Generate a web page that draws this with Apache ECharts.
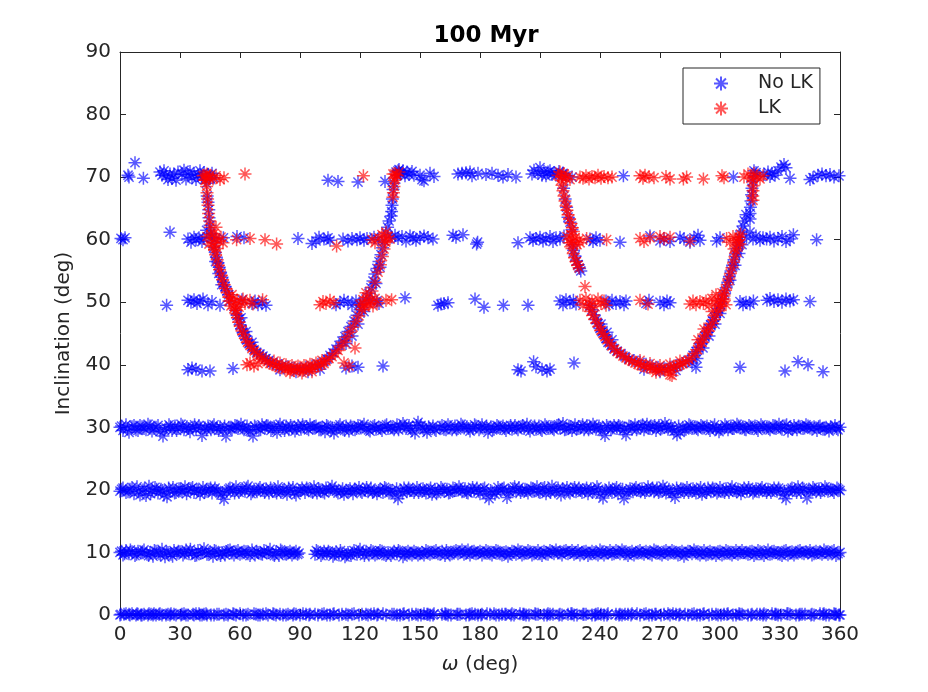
<!DOCTYPE html>
<html>
<head>
<meta charset="utf-8">
<script src="https://cdn.jsdelivr.net/npm/echarts@6/dist/echarts.min.js"></script>
<style>html,body{margin:0;padding:0;background:#fff;}#c{width:928px;height:692px;}</style>
</head>
<body>
<div id="c"></div>
<script>
// ---- data (omega deg, inclination deg) ----
const xTicks = [0,30,60,90,120,150,180,210,240,270,300,330,360];
const yTicks = [0,10,20,30,40,50,60,70,80,90];

const noLkBand0 = [[0,0],[2,0.1],[4,-0.1],[6,0.2],[8,0],[10,-0.2],[12,0.1],[14,0],[17,0.2],[19,-0.1],[21,0],[24,0.1],[26,-0.2],[28,0],[31,0.1],[33,0],[35,-0.1],[38,0.2],[40,0],[42,0.1],[44,-0.1],[47,0],[53,0.1],[55,-0.1],[58,0],[60,0.2],[63,0],[65,-0.1],[68,0.1],[70,0],[73,0.2],[75,-0.1],[78,0],[80,0.1],[83,0],[85,-0.2],[88,0.1],[90,0],[93,0.1],[96,-0.1],[99,0],[102,0.2],[105,0],[108,-0.1],[111,0.1],[114,0],[118,-0.1],[121,0.1],[124,0],[127,0.2],[130,-0.1],[133,0],[137,0.1],[140,0],[143,-0.1],[146,0.1],[149,0],[152,0.2],[155,0],[158,-0.1],[161,0.1],[164,0],[167,-0.1],[170,0.1],[173,0],[176,0.2],[179,0],[182,-0.1],[185,0.1],[188,0],[191,0.1],[194,-0.1],[197,0],[200,0.2],[203,0],[206,-0.1],[209,0.1],[212,0],[215,0.1],[218,-0.2],[221,0],[224,0.1],[227,0],[230,-0.1],[233,0.1],[236,0],[239,0.2],[242,0],[245,-0.1],[248,0.1],[251,0],[254,0.1],[257,-0.1],[260,0],[263,0.2],[266,0],[269,-0.1],[272,0.1],[275,0],[278,0.1],[281,-0.1],[284,0],[287,0.2],[290,0],[293,-0.1],[296,0.1],[299,0],[302,0.1],[305,-0.2],[308,0],[311,0.1],[314,0],[317,-0.1],[320,0.1],[323,0],[326,0.2],[329,0],[332,-0.1],[335,0.1],[338,0],[341,0.1],[344,-0.1],[347,0],[350,0.2],[353,0],[356,-0.1],[358,0.1],[360,0]];
const noLkBand0b = [[1,-0.1],[3,0.2],[5,0],[7,-0.2],[9,0.1],[11,0],[13,-0.1],[15.5,0.1],[18,0],[20,0.2],[22.5,-0.1],[25,0],[27,0.1],[29.5,-0.1],[32,0.2],[34,0],[36.5,0.1],[39,-0.1],[41,0],[43,0.2],[45.5,0],[48.5,0.1],[51,-0.1],[54,0],[56.5,0.2],[59,-0.1],[61.5,0],[64,0.1],[66.5,-0.2],[69,0],[71.5,0.1],[74,0],[76.5,0.2],[79,-0.1],[81.5,0],[84,0.1],[86.5,0],[89,-0.1],[91.5,0.2],[94.5,0],[97.5,0.1],[100.5,-0.1],[103.5,0],[106.5,0.1],[109.5,0],[112.5,-0.1],[116,0.1],[119.5,0],[122.5,-0.1],[125.5,0.1],[128.5,0],[131.5,0.2],[135,-0.1],[138.5,0],[141.5,0.1],[144.5,0],[147.5,-0.2],[150.5,0],[153.5,0.1],[156.5,0],[159.5,-0.1],[162.5,0.2],[165.5,0],[168.5,0.1],[171.5,-0.1],[174.5,0],[177.5,0.1],[180.5,0],[183.5,0.2],[186.5,-0.1],[189.5,0],[192.5,0.1],[195.5,0],[198.5,-0.1],[201.5,0.1],[204.5,0],[207.5,0.2],[210.5,-0.1],[213.5,0],[216.5,0.1],[219.5,0],[222.5,-0.1],[225.5,0.2],[228.5,0],[231.5,0.1],[234.5,-0.1],[237.5,0],[240.5,0.1],[243.5,0],[246.5,-0.2],[249.5,0],[252.5,0.1],[255.5,0],[258.5,0.2],[261.5,-0.1],[264.5,0],[267.5,0.1],[270.5,0],[273.5,-0.1],[276.5,0.2],[279.5,0],[282.5,0.1],[285.5,-0.1],[288.5,0],[291.5,0.1],[294.5,0],[297.5,-0.2],[300.5,0],[303.5,0.1],[306.5,0],[309.5,0.2],[312.5,-0.1],[315.5,0],[318.5,0.1],[321.5,0],[324.5,-0.1],[327.5,0.1],[330.5,0],[333.5,0.2],[336.5,-0.1],[339.5,0],[342.5,0.1],[345.5,0],[348.5,-0.1],[351.5,0.1],[354.5,0],[357,0.2],[359,-0.1]];
const noLkBand0c = [[0.5,0.1],[2.5,-0.2],[4.5,0.1],[6.5,-0.1],[8.5,0.2],[10.5,0],[12.5,-0.1],[14.5,0.2],[16.5,0],[19.5,0.1],[23,0],[25.5,0.2],[28.5,-0.1],[30.5,0],[34.5,-0.2],[37,0],[39.5,0.2],[43.5,0],[46,-0.1],[49.5,0.1],[52,0],[57,0.1],[62,-0.1],[67,0.2],[72,-0.1],[77,0.1],[82,-0.1],[87,0.2],[92,-0.1],[95,0.1],[98,-0.2],[101,0.1],[104,-0.1],[107,0.2],[110,-0.1],[113,0.1],[117,0.2],[120,-0.1],[123,0.1],[126,-0.1],[129,0.1],[132,-0.2],[136,0.1],[139,-0.1],[142,0.2],[145,-0.1],[148,0.1],[151,-0.1],[154,0.1],[157,0.2],[160,-0.1],[163,0.1],[166,-0.2],[169,0.1],[172,-0.1],[175,0.1],[178,-0.2],[181,0.1],[184,-0.1],[187,0.2],[190,-0.1],[193,0.1],[196,0.2],[199,-0.1],[202,0.1],[205,-0.2],[208,0.1],[211,-0.1],[214,0.2],[217,-0.1],[220,0.1],[223,-0.1],[226,0.2],[229,-0.1],[232,0.1],[235,-0.2],[238,0.1],[241,-0.1],[244,0.2],[247,-0.1],[250,0.1],[253,-0.1],[256,0.2],[259,-0.1],[262,0.1],[265,-0.2],[268,0.1],[271,-0.1],[274,0.2],[277,-0.1],[280,0.1],[283,-0.2],[286,0.1],[289,-0.1],[292,0.2],[295,-0.1],[298,0.1],[301,-0.1],[304,0.2],[307,-0.1],[310,0.1],[313,-0.2],[316,0.1],[319,-0.1],[322,0.2],[325,-0.1],[328,0.1],[331,-0.1],[334,0.2],[337,-0.1],[340,0.1],[343,-0.2],[346,0.1],[349,-0.1],[352,0.2],[355,-0.1],[357.5,0.1],[359.5,0]];

const noLkBand10 = [[0,10],[1.5,9.6],[3,10.3],[4.5,9.8],[6,10.1],[7.5,9.5],[9,10.2],[10.5,9.9],[12,10.4],[13.5,9.7],[15,10],[16.5,9.4],[18,10.2],[19.5,9.8],[21,10.5],[22.5,9.3],[24,10],[25.5,9.7],[27,10.3],[28.5,9.9],[30,10.1],[31.5,9.6],[33,10.4],[34.5,9.8],[36,10],[37.5,9.5],[39,10.3],[40.5,9.9],[42,10.6],[43.5,9.7],[45,10.1],[46.5,9.4],[48,10.2],[49.5,9.8],[51,10],[52.5,9.6],[54,10.3],[56,9.9],[58,10.1],[60,9.7],[62,10.2],[64,9.8],[66,10.4],[67.5,9.6],[69,10],[70.5,9.8],[72,10.3],[73.5,9.9],[75,10.5],[76.5,9.7],[78,10.1],[79.5,9.5],[81,10.2],[82.5,9.8],[84,10],[86,9.6],[88,10.2],[89.5,9.9],
[97.5,9.7],[99,10.1],[100.5,9.5],[102,10.2],[103.5,9.8],[105,10],[106.5,9.4],[108,10.1],[109.5,9.6],[111,9.9],[112.5,9.3],[114,10],[115.5,9.5],[117,10.3],[118.5,9.7],[120,10.5],[121.5,9.9],[123,10.2],[124.5,9.6],[126.5,10.1],[128.5,9.8],[130,10.3],[132,9.7],[134,10],[135.5,9.5],[137,10.2],[138.5,9.8],[140,10.1],[141.5,9.3],[143,10],[145,9.8],[147,10.2],[149,9.6],[151,10],[153,10.3],[155,9.7],[157,10.1],[159,9.8],[161,10.2],[162.5,9.5],[164,10],[166,9.8],[168,10.3],[170,10.1],[172,9.7],[174,10.4],[176,10],[178,9.8],[180,10.2],[182,9.9],[184,10.1],[186,9.6],[188,10.3],[190,9.8],[192,10],[194,9.4],[196,10.2],[198,9.7],[200,10.1],[202,9.8],[204,10.3],[206,9.6],[208,10],[210,9.8],[212,10.2],[214,9.7],[216,10.1],[218,10.4],[220,9.9],[222,10.2],[224,9.8],[226,10.3],[228,10],[230,9.6],[232,10.1],[234,9.5],[236,10.2],[238,9.8],[240,10.4],[242,9.6],[244,10],[246,9.7],[248,10.3],[250,9.8],[252,10.1],[254,9.5],[256,10.2],[258,9.9],[260,10.3],[262,9.7],[264,10],[266,9.6],[268,10.2],[270,9.8],[272,10.1],[274,9.7],[276,10.3],[278,9.9],[280,10],[282,9.4],[284,10.2],[286,9.8],[288,10.1],[290,9.6],[292,10.3],[294,9.7],[296,10],[298,9.5],[300,10.2],[302,9.8],[304,10.1],[306,9.6],[308,10.3],[310,9.9],[312,10],[314,9.7],[316,10.2],[318,9.8],[320,10.1],[322,9.5],[324,10.4],[326,9.8],[328,10],[330,9.7],[332,10.2],[334,9.6],[336,10.1],[338,9.9],[340,10.3],[342,9.8],[344,10],[346,9.6],[348,10.2],[350,9.9],[352,10.4],[354,9.7],[356,10.1],[358,9.5],[360,10]];
const noLkBand10b = [[0.8,10.2],[2.3,9.8],[5.2,10.4],[8.3,9.7],[11.2,10.1],[14.3,9.5],[17.2,10.3],[20.3,9.6],[23.2,10.1],[26.3,9.4],[29.2,10.2],[32.3,9.9],[35.2,10.5],[38.3,9.6],[41.2,10],[44.3,9.9],[47.2,10.3],[50.3,9.5],[53.2,10.1],[55,10.4],[57,9.6],[59,10.3],[61,9.9],[63,10.1],[65,9.5],[68.3,10.2],[71.2,9.7],[74.3,10],[77.2,9.5],[80.3,10.4],[83.2,9.7],[85,10.2],[87,9.9],[88.8,9.7],
[98.2,10.3],[101.3,9.8],[104.2,10.2],[107.3,9.7],[110.2,10.3],[113.3,9.6],[116.2,9.9],[119.3,10.1],[122.2,9.5],[125.5,10.3],[127.5,9.6],[129.2,10],[131,10.2],[133,9.5],[136.3,9.9],[139.2,10.3],[142.3,9.7],[144,10.2],[146,9.6],[148,10],[150,9.8],[152,9.6],[154,10.1],[156,9.9],[158,10.3],[160,9.7],[163.2,10.3],[165,9.6],[167,10.1],[169,9.8],[171,10.4],[173,9.9],[175,9.6],[177,10.2],[179,10],[181,9.6],[183,10.3],[185,9.8],[187,10],[189,10.2],[191,9.6],[193,10.1],[195,9.8],[197,10],[199,10.4],[201,9.6],[203,10],[205,10.1],[207,9.8],[209,10.3],[211,9.5],[213,10],[215,10.3],[217,9.8],[219,10],[221,9.6],[223,10.3],[225,10],[227,9.7],[229,10.3],[231,9.9],[233,10.2],[235,9.8],[237,10],[239,9.6],[241,10.1],[243,9.9],[245,10.3],[247,9.8],[249,10],[251,10.4],[253,9.8],[255,10],[257,9.6],[259,10.1],[261,9.9],[263,10.2],[265,9.8],[267,10.4],[269,10],[271,9.6],[273,10.3],[275,9.9],[277,10.1],[279,9.6],[281,10.2],[283,9.8],[285,10.1],[287,10.4],[289,9.8],[291,10],[293,9.6],[295,10.2],[297,9.9],[299,10.1],[301,9.6],[303,10.3],[305,9.8],[307,10],[309,9.7],[311,10.3],[313,9.9],[315,10.1],[317,9.5],[319,10.3],[321,9.8],[323,10],[325,9.7],[327,10.2],[329,10],[331,9.5],[333,10.3],[335,9.9],[337,9.6],[339,10.2],[341,9.9],[343,10.1],[345,10.3],[347,9.8],[349,10],[351,9.7],[353,10.1],[355,9.9],[357,10.3],[359,9.8]];

const noLkBand20 = [[0,19.8],[1.5,20.3],[3,19.6],[5,20.1],[7,19.4],[8.5,20.5],[10,19.2],[11.5,20],[13,19.1],[14.5,20.6],[16,19.8],[17.5,20.4],[19,19.5],[20.5,20.1],[22,19.2],[23.5,18.9],[25,19.8],[26.5,20.4],[28,19.6],[29.5,20.2],[31,19.7],[32.5,20.5],[34,19.9],[35.5,20.2],[37,19.6],[38.5,20],[40,19.3],[41.5,20.4],[43,19.8],[44.5,20.1],[46,19.5],[47.5,20.3],[49,19.8],[50.5,19.2],[52,18.5],[53.5,19.7],[55,20.3],[56.5,19.9],[58,20.5],[59.5,19.6],[61,20.2],[62.5,19.8],[64,20.6],[65.5,19.4],[67,20.1],[68.5,19.7],[70,20.4],[71.5,19.9],[73,20.2],[74.5,19.5],[76,20],[77.5,19.8],[79,20.5],[80.5,19.6],[82,20.1],[83.5,19.3],[85,19.8],[86.5,20.4],[88,19.2],[89.5,19.9],[91,20.3],[92.5,19.6],[94,20.1],[95.5,19.8],[97,20.5],[98.5,19.5],[100,20],[101.5,19.7],[103,20.3],[104.5,19.9],[106,20.6],[107.5,20.1],[109,19.5],[110.5,19.8],[112,19.3],[113.5,19.7],[115,20.2],[116.5,19.4],[118,19.9],[119.5,20.4],[121,19.6],[122.5,20],[124,19.7],[125.5,20.3],[127,19.8],[128.5,19.4],[130,20.1],[131.5,19.6],[133,20.2],[134.5,19.5],[136,19.9],[137.5,19.2],[139,18.6],[140.5,19.8],[142,20.3],[143.5,19.7],[145,20],[147,19.6],[148.5,20.4],[150,19.9],[151.5,20.2],[153,19.5],[154.5,20],[156,19.3],[157.5,20.1],[159,19.7],[160.5,20.4],[162,19.8],[163.5,20.1],[165,19.6],[166.5,20.3],[168,19.9],[169.5,20.5],[171,19.7],[172.5,20.2],[174,19.5],[175.5,20],[177,19.8],[178.5,20.3],[180,19.4],[181.5,20.1],[183,19.2],[184.5,18.6],[186,19.7],[187.5,19.3],[189,20.4],[190.5,19.9],[192,20.3],[193.5,18.8],[195,19.6],[196.5,20.2],[198,19.7],[199.5,20.4],[201,19.9],[202.5,20.1],[204,19.5],[205.5,20.3],[207,19.8],[208.5,20.5],[210,19.6],[211.5,20.2],[213,19.4],[214.5,19.9],[216,20.6],[217.5,19.7],[219,20.3],[220.5,19.2],[222,19.8],[223.5,20.4],[225,19.5],[226.5,20.1],[228,19.7],[229.5,20.3],[231,19.6],[232.5,20],[234,19.4],[235.5,20.2],[237,19.8],[238.5,20.5],[240,19.3],[241.5,18.7],[243,19.9],[244.5,20.3],[246,19.6],[247.5,20.1],[249,19.4],[250.5,19.8],[252,18.6],[253.5,19.5],[255,20.2],[256.5,19.7],[258,20.4],[259.5,19.9],[261,20.2],[262.5,19.6],[264,20.5],[265.5,20],[267,19.7],[268.5,20.3],[270,19.8],[271.5,20.6],[273,19.5],[274.5,20.1],[276,19.4],[277.5,18.8],[279,19.7],[280.5,20.2],[282,19.6],[283.5,20.4],[285,19.9],[286.5,20.2],[288,19.5],[289.5,20],[291,19.3],[292.5,19.8],[294,20.3],[295.5,19.7],[297,20.1],[298.5,19.5],[300,20.4],[301.5,19.8],[303,20.2],[304.5,19.6],[306,20.5],[307.5,19.9],[309,20.1],[310.5,19.4],[312,20.3],[313.5,19.8],[315,20],[316.5,19.5],[318,20.2],[319.5,19.7],[321,20.4],[322.5,19.9],[324,20.1],[325.5,19.6],[327,20.3],[328.5,19.8],[330,20],[331.5,19.2],[333,18.6],[334.5,19.7],[336,20.3],[337.5,19.9],[339,20.5],[340.5,19.6],[342,20.1],[343.5,18.7],[345,19.8],[346.5,20.4],[348,19.7],[349.5,20.2],[351,19.9],[352.5,20.5],[354,19.8],[355.5,20.1],[357,19.6],[358.5,20.3],[360,19.9]];
const noLkBand20b = [[0.8,20.1],[4,19.7],[6,20.4],[9.3,19.8],[12.3,20.2],[15.3,19.4],[18.3,20.1],[21.3,19.9],[24.3,20.3],[27.3,19.5],[30.3,20.1],[33.3,19.4],[36.3,20.4],[39.3,19.9],[42.3,19.6],[45.3,20.3],[48.3,19.9],[51.3,19.6],[54.3,20.1],[57.3,19.5],[60.3,19.9],[63.3,20.3],[66.3,19.7],[69.3,20.1],[72.3,19.6],[75.3,20.3],[78.3,19.5],[81.3,19.9],[84.3,20.3],[87.3,19.6],[90.3,19.9],[93.3,20.3],[96.3,19.6],[99.3,20.2],[102.3,19.5],[105.3,20.1],[108.3,19.8],[111.3,20.2],[114.3,19.9],[117.3,20.1],[120.3,19.8],[123.3,20.4],[126.3,19.6],[129.3,19.9],[132.3,20.4],[135.3,19.8],[138.3,20.2],[141.3,19.5],[144.3,20.3],[146,19.9],[149.3,19.6],[152.3,19.9],[155.3,20.3],[158.3,19.4],[161.3,20.1],[164.3,19.5],[167.3,19.9],[170.3,20.1],[173.3,19.6],[176.3,20.4],[179.3,19.8],[182.3,20.3],[185.3,19.9],[188.3,19.7],[191.3,20.1],[194.3,19.8],[197.3,20.5],[200.3,19.6],[203.3,19.9],[206.3,20.1],[209.3,19.7],[212.3,20.4],[215.3,19.6],[218.3,19.9],[221.3,20.2],[224.3,19.7],[227.3,20.4],[230.3,19.9],[233.3,20.3],[236.3,19.6],[239.3,20.1],[242.3,19.7],[245.3,19.9],[248.3,20.4],[251.3,20.1],[254.3,19.8],[257.3,20.1],[260.3,19.7],[263.3,19.9],[266.3,20.3],[269.3,19.6],[272.3,20.1],[275.3,19.8],[278.3,20.3],[281.3,19.9],[284.3,19.6],[287.3,19.9],[290.3,20.4],[293.3,19.6],[296.3,20.3],[299.3,19.8],[302.3,19.6],[305.3,20.1],[308.3,19.7],[311.3,19.9],[314.3,20.4],[317.3,19.8],[320.3,20.1],[323.3,19.6],[326.3,19.9],[329.3,20.3],[332.3,19.8],[335.3,20.1],[338.3,19.6],[341.3,20.3],[344.3,19.9],[347.3,20.1],[350.3,19.6],[353.3,20.2],[356.3,19.9],[359.3,20.1]];

const noLkBand30 = [[0,30],[1.5,29.5],[3,30.4],[4.5,29.2],[6,30.1],[8,29.6],[10,30.3],[12,29.8],[14,30.5],[16,29.4],[18,30],[20,29.3],[21.5,28.6],[23,29.9],[24.5,30.4],[26,29.5],[27.5,30.2],[29,29.8],[30.5,30.5],[32,29.6],[33.5,30.1],[35,29.3],[36.5,30],[38,29.7],[39.5,30.3],[41,28.7],[42.5,29.9],[44,30.2],[45.5,29.6],[47,30.4],[48.5,29.8],[50,30.1],[51.5,29.5],[53,28.6],[54.5,30],[56,29.7],[57.5,30.3],[59,29.8],[60.5,30.5],[62,29.6],[63.5,30.2],[65,29.4],[66.5,28.6],[68,30],[69.5,29.7],[71,30.4],[72.5,29.9],[74,30.2],[75.5,29.5],[77,30.1],[78.5,29.2],[80,30.5],[81.5,29.8],[83,30.2],[84.5,29.6],[86,30],[87.5,29.4],[89,30.3],[90.5,29.7],[92,30.1],[93.5,29.8],[95,30.4],[96.5,29.9],[98,30.2],[99.5,29.6],[101,30],[102.5,29.3],[104,30.1],[105.5,29.5],[107,29.1],[108.5,29.8],[110,30.4],[111.5,29.7],[113,30.2],[114.5,29.4],[116,30],[117.5,29.6],[119,30.3],[120.5,29.9],[122,30.5],[123.5,29.8],[125,29.4],[126.5,30.1],[128,29.7],[129.5,30],[131,29.5],[132.5,30.2],[134,29.8],[135.5,30],[137,29.6],[138.5,30.4],[140,30.1],[141.5,30.6],[143,29.8],[144.5,30.3],[146,29.5],[147.5,29.1],[149,30.8],[150.5,30.3],[152,29.6],[153.5,29.2],[155,29.8],[156.5,30.2],[158,29.5],[160,30],[162,29.7],[164,30.4],[166,29.6],[167.5,30.2],[169,29.8],[170.5,30.5],[172,29.9],[173.5,30.1],[175,29.4],[176.5,29.8],[178,30.2],[179.5,29.6],[181,30.4],[182.5,29.9],[184,29.2],[185.5,30.1],[187,29.7],[188.5,30.3],[190,29.8],[191.5,30.2],[193,29.5],[194.5,30],[196,29.7],[197.5,30.3],[199,29.6],[200.5,30.1],[202,29.8],[203.5,30.5],[205,29.4],[206.5,30],[208,29.7],[209.5,30.2],[211,29.5],[212.5,30.4],[214,29.8],[215.5,30.1],[217,29.6],[218.5,30.3],[220,29.9],[221.5,30.6],[223,29.7],[224.5,30.2],[226,29.5],[227.5,30.4],[229,29.8],[230.5,30.1],[232,29.6],[233.5,30.3],[235,29.9],[236.5,30.5],[238,29.7],[239.5,30.2],[241,29.4],[242.5,28.7],[244,30],[245.5,29.6],[247,30.3],[248.5,29.8],[250,30.1],[251.5,29.5],[253,28.8],[254.5,30.2],[256,29.7],[257.5,30.4],[259,29.9],[260.5,30.2],[262,29.6],[263.5,30.5],[265,29.8],[266.5,30.1],[268,29.5],[269.5,30.3],[271,29.9],[272.5,30.6],[274,29.7],[275.5,30.2],[277,29.4],[278.5,28.8],[280,29.2],[281.5,30],[283,29.7],[284.5,30.4],[286,29.8],[287.5,30.1],[289,29.6],[290.5,30.3],[292,29.9],[293.5,30.2],[295,29.5],[296.5,30],[298,29.7],[299.5,29.3],[301,29.9],[302.5,30.4],[304,29.6],[305.5,30.2],[307,29.8],[308.5,30.5],[310,29.9],[311.5,30.1],[313,29.6],[314.5,30.3],[316,29.8],[317.5,30.2],[319,29.5],[320.5,30.4],[322,29.9],[323.5,30.1],[325,29.6],[326.5,30.3],[328,29.8],[329.5,30.5],[331,29.7],[332.5,30.2],[334,29.4],[335.5,29.8],[337,30.3],[338.5,29.6],[340,30.1],[341.5,29.8],[343,30.4],[345,29.9],[347,30.1],[348.5,29.5],[350,30.2],[351.5,29.7],[353,30],[354.5,29.4],[356,29.9],[357.5,30.3],[359,29.6],[360,30]];
const noLkBand30b = [[0.8,30.2],[3.8,29.7],[7,30.3],[9,29.5],[11,30.1],[13,29.6],[15,30.2],[17,29.8],[19,30.3],[22.3,29.6],[25.3,30.1],[28.3,29.5],[31.3,30.2],[34.3,29.8],[37.3,30.4],[40.3,29.9],[43.3,29.6],[46.3,30.1],[49.3,29.5],[52.3,30.2],[55.3,29.8],[58.3,30.1],[61.3,29.9],[64.3,29.6],[67.3,30.2],[70.3,29.6],[73.3,30.3],[76.3,29.8],[79.3,30.1],[82.3,29.5],[85.3,30.3],[88.3,29.8],[91.3,30.4],[94.3,29.6],[97.3,30.1],[100.3,29.8],[103.3,30.3],[106.3,29.9],[109.3,30.1],[112.3,29.5],[115.3,30.2],[118.3,29.8],[121.3,30.1],[124.3,29.6],[127.3,30.3],[130.3,29.8],[133.3,30.4],[136.3,29.9],[139.3,29.6],[142.3,30.2],[145.3,29.8],[148.3,30.3],[151.3,29.9],[154.3,30.1],[157.3,29.7],[161,30.3],[163,29.6],[165,30.1],[168.3,29.6],[171.3,30.2],[174.3,29.8],[177.3,30.4],[180.3,29.9],[183.3,30.2],[186.3,29.6],[189.3,30.1],[192.3,29.8],[195.3,30.3],[198.3,29.9],[201.3,30.3],[204.3,29.8],[207.3,30.2],[210.3,29.7],[213.3,30.1],[216.3,29.8],[219.3,30.4],[222.3,29.6],[225.3,30.1],[228.3,29.7],[231.3,30.4],[234.3,29.6],[237.3,30.1],[240.3,29.8],[243.3,30.3],[246.3,29.9],[249.3,30.3],[252.3,29.8],[255.3,30.1],[258.3,29.6],[261.3,30.4],[264.3,29.9],[267.3,30.3],[270.3,29.7],[273.3,30.1],[276.3,29.8],[279.3,30.2],[282.3,29.6],[285.3,30.2],[288.3,29.8],[291.3,30.1],[294.3,29.8],[297.3,30.4],[300.3,29.7],[303.3,30.1],[306.3,29.8],[309.3,30.2],[312.3,29.7],[315.3,30.1],[318.3,29.8],[321.3,30.1],[324.3,29.8],[327.3,30],[330.3,29.9],[333.3,30.4],[336.3,29.7],[339.3,30.2],[342.3,29.9],[344,30.2],[346,29.7],[349.3,30.1],[352.3,29.8],[355.3,30.1],[358.3,29.8]];

const noLkBand40 = [[34,39.2],[36,39.5],[38,39.3],[41,39.0],[45,39.0],[56.5,39.4],[113,39.5],[116,39.8],[119,39.6],[131.5,39.8],[199,39.2],[200.5,39.0],[206.8,40.5],[208,39.7],[211,39.3],[213.5,39.0],[215,39.3],[227,40.3],[310,39.6],[332.5,39.0],[339,40.5],[344,40.0],[351.5,38.9]];

const noLkBand50 = [[23.3,49.5],[34,50.3],[35.5,50],[37,50.4],[38.5,49.8],[40,50.2],[41.5,50.5],[44,49.6],[46,50.1],[50,49.5],[55,50.2],[61,50.4],[66,49.8],[67.5,50.2],[69,49.6],[71,49.9],[73,49.5],[108,49.6],[110,49.9],[112,50.3],[114,50],[116,49.5],[118,50.2],[120,49.7],[128.5,50.2],[129.5,49.8],[142.5,50.7],[159,49.5],[160.5,49.7],[162,49.8],[164,49.9],[177.5,50.5],[182,49.2],
[191.7,49.5],[204,49.5],[220,50.2],[221.5,49.6],[223,50.4],[225,49.9],[226.7,50.3],[228,49.7],[243,50.2],[244.5,49.6],[246,50.3],[248,49.8],[250,50.1],[252,49.6],[253,50.2],[263,49.8],[264.5,50.3],[270,50],[272,49.6],[273.5,50.2],[275,49.9],[310,50.1],[311.5,49.6],[313,50],[315,49.7],[316.7,50.2],[323.5,50.3],[325,50.6],[327,50.1],[329,50.4],[331,50],[333,50.5],[335,50.2],[336.7,50.4],[345,50.1]];

const noLkBand60 = [[0.5,60.2],[1.5,60],[2.5,60.3],[25,61.2],[34,60.1],[35.5,59.6],[37,60.4],[38,60],[39.5,60.3],[41,59.7],[42,60.2],[45.5,60.4],[48,60.1],[51.7,60.3],[58.5,60.5],[62,60.3],[89,60.2],[96,59.4],[98,59.8],[99.5,60.4],[102,60.1],[104,60.3],[105,59.9],[111.5,60.1],[114,59.8],[116,60.2],[118.5,60],[120,60.3],[122,59.9],[123.5,60.2],[127,60.4],[129,60],[136,60.4],[137.5,60.7],[139,60.2],[141,60.5],[143,59.8],[145,60.6],[146.5,60.3],[148,59.9],[150,60.4],[152,60.6],[154,60.3],[156.5,60.1],[166.5,60.7],[168,60.4],[171.5,60.8],[178.3,59.3],[178.8,59.6],
[199,59.5],[205,60.3],[206.5,59.9],[208,60.2],[210,60.4],[211.5,59.8],[213,60.1],[215,60.5],[216.5,59.7],[218,60.3],[220,60.1],[222,60.6],[235,60.1],[236.5,59.7],[238,60.3],[240,59.9],[250,59.6],[265,60.6],[270,59.8],[272,60.2],[275,59.7],[280,60.4],[282,60.1],[285,59.6],[287,60.3],[289,60.7],[290,59.9],[298.3,59.8],[300,60.3],[313.3,60.4],[315,61.2],[316.5,60.1],[318,60.6],[320,59.9],[321.5,60.3],[323.3,60.1],[325,60.4],[327,59.8],[329,60.2],[331,60.5],[333,59.7],[335,60.1],[336.7,60.8],[348.3,60]];

const noLkBand70 = [[4,70.3],[4.5,70.0],[7.5,72.3],[11.7,69.8],[20,70.8],[21,70.3],[22,71],[23,70.2],[24,69.6],[25,70.5],[26,69.8],[27,70.4],[28,69.5],[29,70.8],[31,70.5],[32,71.1],[33,69.7],[34,70.4],[35,70.9],[36,69.9],[37,70.5],[38,69.6],[39,70.3],[40,71],[41,70],[42,70.7],[44,70.4],[45,69.8],[46,70.6],[47,69.9],[104,69.5],[109,69.3],[119,69.2],[132.5,69.3],[138.5,70.3],[139.5,71.2],[140.5,70.6],[141.5,71],[142.5,70.2],[143.5,70.8],[144.5,70.4],[146,70.9],[147,70.3],[150,70.3],[151,69.6],[152,69.4],[155,70.6],[157,70.1],[169,70.5],[171,70.6],[173,70.7],[175,70.8],[176,70.2],[179,70.6],[183,70.4],[186,70.6],[189,70.3],[191.5,70],[194,70.4],[198,70],
[206,70.5],[207,71.1],[209,70.6],[210,71.5],[211,70.3],[212,70.9],[213,70.2],[214,70.8],[215,71],[216,70.4],[217,70.7],[218,70.3],[219.5,70.9],[221.5,70.6],[223,70.2],[226,70],[251.7,70.2],[306.7,70],[322,70.4],[324,70.8],[325,70.1],[326,70.6],[327.5,70.3],[329,71],[330.5,71.6],[332,72],[333,71.5],[335,69.8],[345,69.6],[346.5,69.9],[349,70.3],[351,70.5],[353,70.2],[355,70.4],[357,70],[359.5,70.2]];

const noLkLeftU = [[42.8,70],[43.2,69],[43.6,67],[44,66],[44.4,64.8],[44.5,63.5],[45,62.3],[43.3,61.5],[45.5,61],
[138,70.8],[137,69],[136.5,68],[136.2,66.5],[136,65.5],[135.8,64.5],[135.6,63.8],[139,71],[140,70.5],
[46.2,60.3],[47,58.8],[47.6,58],[48.2,57.2],[49,56.3],[49.6,55.6],[50.3,54.8],[51,54],[51.7,53.2],[52.5,52.5],[53.4,51.8],[54.3,51.2],[47.8,56.5],[49.4,54.6],[50.9,52.8],
[57.8,48.7],[58.5,47.9],[59.5,47.3],[60,46.4],[60.8,45.7],[61.5,45.2],[62.5,44.6],[63.3,44],[64.5,43.4],[65.8,42.9],[67,42.4],[68.4,42],[70,41.7],[71.5,41.4],[73,41],[74.5,40.7],[60.5,47.5],[63,45.3],[66,43.6],
[76,40.3],[78.5,40.1],[81,39.9],[84,39.7],[87,39.5],[90,39.4],[93,39.6],[96,39.8],[99,40.1],[102,40.5],[80,39.2],[88,38.9],[94,38.9],[100,39.3],
[103.5,40.9],[105,41.5],[106.5,41.9],[108,42.5],[109.5,43.1],[111,43.8],[112.5,44.5],[114,45.3],[115.5,46.1],[117,47],[118.5,47.9],[120,48.8],[121.5,49.8],[123,50.5],[124.5,51.4],[125.5,52.3],[126.5,53.4],[127.5,54.5],[128.5,55.4],[129.5,56.5],[130.5,57.6],[131.3,58.7],[132.1,59.8],[133,61],[113,43.4],[116,44.6],[119,46.5],[122,48.5],[125,50.2],[128,53],[130,55.6],[133.8,62],[134.5,63]];

const noLkRightU = [[221,70.3],[221.8,68.2],[222.6,66.5],[223.3,65.2],[224,63.6],[225,62.8],[226,61.6],
[226.2,59.2],[226.8,58.3],[227.5,57.4],[228.3,56.6],[229,56],[229.8,55.4],[230.4,55],
[235,49.5],[236,48.8],[237,48],[238,47.2],[239,46.6],[240,45.8],[241,45.3],[242,44.8],[243,44.2],[244,43.6],[245.5,43.1],[247,42.6],[248.5,42.2],[250.5,41.8],[252.5,41.3],[254.5,40.9],[240.5,46.5],[243.5,45.2],[246,44],
[257,40.7],[260,40.4],[263,40.1],[266,39.8],[269,39.6],[272,39.5],[275,39.6],[278,39.9],[281,40.2],[284,40.7],[262,39.3],[270,38.9],[278,39.1],[286,40.3],[288,39.6],
[286.5,41.5],[288,42.1],[289.2,42.8],[290.3,43.4],[291.3,44],[292.3,44.6],[293.3,45.2],[294.3,45.8],[295.3,46.4],[296.3,47],[297.3,47.6],[298.3,48.3],[299.3,49],[300.3,49.7],[301.3,50.5],[302.3,51.4],[303.1,52.3],[303.9,53.2],[304.7,54.1],[305.5,55],[306.3,55.9],[307,56.8],[307.8,57.7],[308.5,58.6],[309.2,59.5],[310,60.4],[310.8,61.4],[311.5,62.2],[312.2,63],[313,64],[305,53.5],[307.5,55.9],[309.5,57.8],[311,59.2],[288.5,41],[291.5,42.7],[294.5,44.6],[297.5,46.5],[300,48.2],
[317.5,70.2],[316.3,69.3],[316,68.2],[315.8,67.2],[315.5,66.2],[315.2,65.2],[315,64.2],[315,63.3],[317,71],[318,70.7]];

const lkBands = [[46.5,69.7],[48,70.2],[50,69.6],[52,69.9],[62.5,70.5],[121.7,70.2],[41.5,70.2],[42.5,69.5],[43.5,70.5],[44.5,69.8],[45,70.3],[136.5,70.5],[137.5,69.8],[138.5,70.3],[139.5,70.8],
[219,70.3],[220,70.8],[221,70],[222,70.5],[223,69.8],[224,70.2],[225,69.6],[230,70],[231.5,69.8],[233,70.2],[234.5,69.7],[236,70.1],[237.5,69.9],[239,70.3],[240.5,69.8],[242,70.1],[244,69.9],[246,70],[260,70.2],[261.5,69.8],[262.5,70.3],[264.5,70],[267,69.9],[273,70.1],[275,69.7],[281.7,69.7],[283.3,70],[291.7,69.7],[301,70.2],[302,69.9],[312,70],[314,70.5],[315.5,69.8],[317,70.6],[318.5,70.1],[320,69.7],[321.5,70.2],
[43.5,60.5],[44.5,59.3],[45.5,60.8],[46.5,59],[47.5,60.2],[48.5,58.6],[49.5,59.8],[50.5,60.4],[51.5,59.5],[47,61],[48,62],[58.3,60],[65,60.2],[72.5,60],[78.3,59.3],[108.3,59],[126,60],[127.5,59.5],[129.5,60.3],[131,60.8],[132.5,59.8],[134,60.5],[135,60.1],[133,61.2],
[223.5,60.5],[224.5,59.5],[225.5,60.8],[226.5,59.8],[227.5,60.3],[228.5,59.2],[229.5,60],[230,59.5],[233.3,60.2],[243.3,60],[260,60.2],[262,59.7],[265,60.3],[270,60.5],[272,60.1],[275,60.4],[285,59.8],[303.3,60.2],[305,59.6],[306.5,60.5],[308,59.9],[309.5,60.4],[310,59.3],[307,58.5],
[54.5,50.2],[55.5,49.4],[56.5,50.6],[57.5,49.7],[58.5,50.3],[59.5,49.2],[60.5,50],[56,51.2],[58,48.7],[61.5,50.5],[62.5,49.8],[65,50.3],[66.5,49.7],[71.3,50.4],[100,49.6],[101.5,50.1],[103,49.8],[105,50.3],[107,49.9],[120,49.6],[121.5,50.4],[122.5,49.2],[123.5,50.8],[124.5,49.7],[125.5,50.3],[126.5,49.4],[127.5,50.6],[128.5,49.9],[123,51.5],[133,50.3],[135.8,50.4],
[230,50.3],[231.5,49.5],[233,50.6],[234.5,49.7],[236,50.2],[237.5,49.3],[239,50.5],[240.5,49.8],[242,50.2],[243,49.5],[232.5,52.5],[260,50.3],[264,49.7],[285,49.7],[286.5,50.2],[288,49.6],[290,50.1],[291.7,49.8],[293,50.2],[294.5,49.5],[296,50.6],[297.5,49.8],[299,50.3],[300.5,49.4],[302,50.5],[303,49.6],[298,51.2],[301,51.5],
[63.5,40],[65,40.3],[67,39.8],[69,40.2],[112,40.3],[114.5,39.8],[117.5,42.7],[275,38.4]];

const lkLeftU = [[42.5,70.3],[43,69.5],[43.3,68.5],[43.5,67.5],[43.8,66.5],[44,65.5],[44.3,64.2],[44.8,63],[45.2,62],
[137.5,70.5],[137.2,69.5],[137,68.5],[136.7,67.5],[136.5,66.8],
[46.8,59.5],[47.3,58.4],[47.8,57.6],[48.6,56.8],[49.2,55.9],[49.8,55.2],[50.6,54.3],[51.3,53.6],[52,52.8],[52.8,52.2],[53.6,51.5],[54.5,50.8],
[57,49],[58,48.2],[58.7,47.5],[59.3,46.8],[60.2,46.2],[61,45.4],[61.8,44.9],[62.8,44.2],[63.8,43.6],[65,43.1],[66,42.6],[67.2,42.2],[68.5,41.8],[69.8,41.4],[71,41.1],[72.3,40.8],[73.6,40.5],[75,40.2],
[76.5,40],[78,39.8],[79.5,39.6],[81,39.5],[82.5,39.3],[84,39.4],[85.5,39.2],[87,39.1],[88.5,39.3],[90,39.2],[91.5,39.1],[93,39.4],[94.5,39.3],[96,39.5],[97.5,39.6],[99,39.8],[100.5,40],[102,40.2],[103,40.6],
[77,40.6],[80,40.3],[83,40],[86,39.9],[89,39.8],[92,39.9],[95,40.1],[98,40.3],[101,40.7],[85,38.8],[91,38.7],[96,38.9],
[104.5,41],[106,41.3],[107.5,41.8],[109,42.3],[110.5,43],[112,43.6],[113.5,44.4],[115,45.2],[116.5,46],[118,46.9],[119.5,47.8],[121,48.8],[122.3,49.6],[126,51.8],[127.5,53.2],[129,54.8],[130.2,56],[131.2,57.3],[132,58.5],[132.8,59.6]];

const lkRightU = [[220.5,69.5],[221,68.7],[221.5,67.8],[222,67],[222.5,66.2],[223,65.4],[223.5,64.7],[224,64],[224.8,63.3],[225.5,62.6],[226.2,61.9],[226.7,61.3],
[225.5,59.5],[226,58.6],[226.6,57.8],[227.3,57.1],[228,56.5],[228.8,55.9],[229.5,55.5],
[234.5,49.2],[235.5,48.5],[236.5,47.9],[237.5,47.3],[238.5,46.7],[239.5,46.1],[240.5,45.5],[241.5,45],[242.5,44.5],[243.5,44],[244.8,43.5],[246,43],[247.3,42.5],[248.7,42.1],[250,41.8],[251.5,41.4],[253,41.1],[254.5,40.8],[256,40.6],
[257.5,40.3],[259,40.1],[260.5,39.9],[262,39.8],[263.5,39.6],[265,39.5],[266.5,39.4],[268,39.3],[269.5,39.2],[271,39.3],[272.5,39.1],[274,39.2],[275.5,39.4],[277,39.6],[278.5,39.8],[280,40],[281.5,40.2],[283,40.5],[284.5,40.8],[260,40.7],[265,40.2],[270,39.9],[275,40.1],[280,40.6],[268,38.8],[276,38.3],
[286,41.2],[287.5,41.8],[288.8,42.4],[290,43],[291,43.6],[292,44.2],[293,44.8],[294,45.4],[295,46],[296,46.6],[297,47.2],[298,47.9],[299,48.6],[300,49.3],[301,50.1],[302,51],[302.8,51.9],[303.6,52.8],[304.4,53.7],[305.2,54.6],[306,55.5],[306.8,56.4],[307.5,57.3],[308.2,58.2],[308.9,59.1],[309.6,60],[310.3,60.9],[289,44],[292,45.7],[296,48.5],
[316.7,69.5],[316.6,68.6],[316.5,67.8],[316.4,67],[316.5,66.3]];

const noLkData = [].concat(noLkBand0, noLkBand0b, noLkBand0c, noLkBand10, noLkBand10b, noLkBand20, noLkBand20b, noLkBand30, noLkBand30b, noLkBand40, noLkBand50, noLkBand60, noLkBand70, noLkLeftU, noLkRightU);
const lkData = [].concat(lkBands, lkLeftU, lkRightU);

// ---- chart ----
const STAR = 'path://M0,6L12,6M6,0L6,12M1.76,1.76L10.24,10.24M10.24,1.76L1.76,10.24';
const txt = '#262626';
const font = 'DejaVu Sans';
const chart = echarts.init(document.getElementById('c'), null, {renderer: 'canvas'});

function axisCommon(extra) {
  return Object.assign({
    type: 'value',
    axisLine: {show: true, onZero: false, lineStyle: {color: txt, width: 1}},
    axisTick: {show: true, inside: true, length: 6, lineStyle: {color: txt}},
    splitLine: {show: false},
    axisLabel: {color: txt, fontSize: 20, fontFamily: font},
  }, extra);
}

chart.setOption({
  animation: false,
  backgroundColor: '#fff',
  title: {
    text: '100 Myr', left: 481, top: 20, textAlign: 'center',
    textStyle: {fontSize: 23, fontWeight: 'bold', color: '#000', fontFamily: font}
  },
  grid: {left: 120, right: 88, top: 52, bottom: 77, containLabel: false},
  legend: {
    orient: 'vertical', left: 683, top: 68,
    backgroundColor: '#fff', borderColor: txt, borderWidth: 1,
    padding: [6, 7, 6, 30], itemGap: 6, itemWidth: 14, itemHeight: 14,
    textStyle: {fontSize: 19, color: txt, fontFamily: font, padding: [0, 0, 0, 25]},
    data: ['No LK', 'LK']
  },
  xAxis: [
    axisCommon({min: 0, max: 360, interval: 30, position: 'bottom',
      axisLabel: {color: txt, fontSize: 20, fontFamily: font, margin: 10, formatter: v => String(v)},
      name: '{i|ω} (deg)', nameLocation: 'middle', nameGap: 40,
      nameTextStyle: {fontSize: 20, color: txt, fontFamily: font, rich: {i: {fontStyle: 'italic', fontSize: 20, color: txt, fontFamily: font}}}
    }),
    axisCommon({min: 0, max: 360, interval: 30, position: 'top', axisLabel: {show: false}})
  ],
  yAxis: [
    axisCommon({min: 0, max: 90, interval: 10, position: 'left',
      axisLabel: {color: txt, fontSize: 20, fontFamily: font, margin: 9},
      name: 'Inclination (deg)', nameLocation: 'middle', nameGap: 46,
      nameTextStyle: {fontSize: 20, color: txt, fontFamily: font}
    }),
    axisCommon({min: 0, max: 90, interval: 10, position: 'right', axisLabel: {show: false}})
  ],
  series: [
    {
      name: 'No LK', type: 'scatter', symbol: STAR, symbolSize: 13,
      data: noLkData, large: false, progressive: 0,
      itemStyle: {color: 'rgba(0,0,255,0.82)', borderColor: 'rgba(0,0,255,0.82)', borderWidth: 1.5},
      emphasis: {disabled: true}, silent: true
    },
    {
      name: 'LK', type: 'scatter', symbol: STAR, symbolSize: 13,
      data: lkData, large: false, progressive: 0,
      itemStyle: {color: 'rgba(255,0,0,0.82)', borderColor: 'rgba(255,0,0,0.82)', borderWidth: 1.5},
      emphasis: {disabled: true}, silent: true
    }
  ]
});
</script>
</body>
</html>
